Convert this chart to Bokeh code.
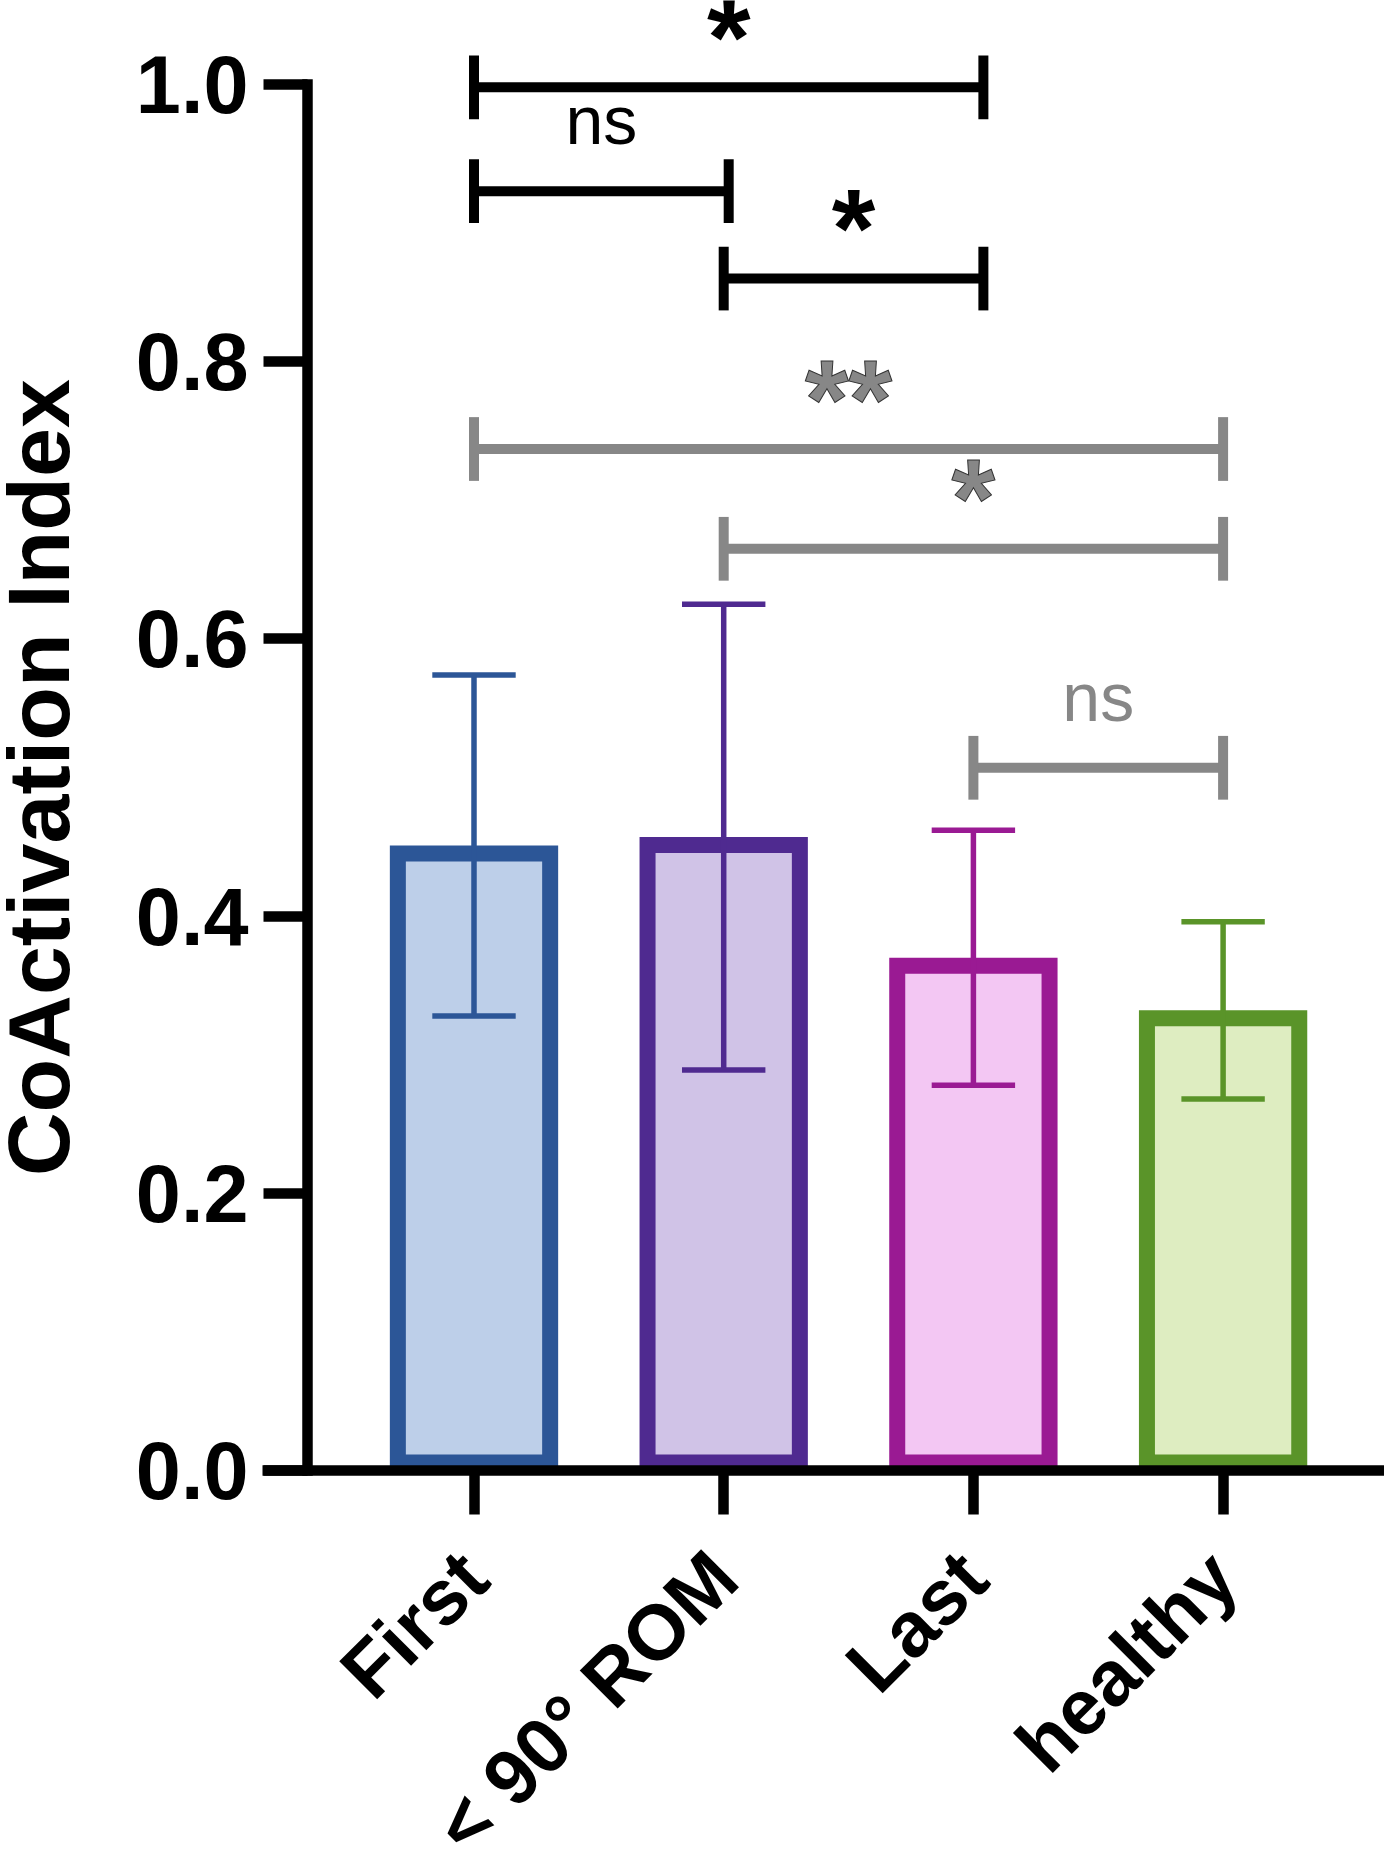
import math
from bokeh.plotting import figure
from bokeh.models import ColumnDataSource, FixedTicker, Range1d, NumeralTickFormatter
from bokeh.core.properties import value
from bokeh.embed import file_html
from bokeh.resources import INLINE

# ---- data ----
categories = ["First", "< 90° ROM", "Last", "healthy"]
means = [0.451, 0.457, 0.370, 0.332]
sds = [0.123, 0.168, 0.092, 0.064]
outline_colors = ["#2C5697", "#4F2A90", "#9A1A93", "#5A9429"]
fill_colors = ["#BDCFE9", "#D0C3E7", "#F3C7F3", "#DEEDC1"]

# significance brackets (category index from / to, height, label)
sig_left = [0, 0, 1, 0, 1, 2]
sig_right = [2.04, 1.02, 2.04, 3, 3, 3]
sig_y = [0.998, 0.923, 0.860, 0.737, 0.665, 0.507]
sig_text = ["*", "ns", "*", "**", "*", "ns"]
sig_color = ["#000000", "#000000", "#000000", "#878787", "#878787", "#878787"]

y_ticks = [0.0, 0.2, 0.4, 0.6, 0.8, 1.0]

# ---- styling constants ----
PX_PER_UNIT_Y = 1386.0
BAR_LW = 16
BAR_W = 0.61
CAP_HALF = 0.167
TICK_HALF = 0.023
FONT = "Liberation Sans"
Y_AXIS_AT = -0.667          # x position of the y axis line
X_AXIS_FROM = -0.847        # left end of the x axis line

xs = list(range(len(categories)))
inset = (BAR_LW / 2) / PX_PER_UNIT_Y

p = figure(width=1384, height=1846,
           x_range=Range1d(-1.8963, 3.6464), y_range=Range1d(-0.2713, 1.0606),
           output_backend="svg", toolbar_location=None,
           min_border_left=0, min_border_right=0,
           min_border_top=0, min_border_bottom=0)
p.outline_line_color = None
p.xgrid.visible = False
p.ygrid.visible = False
p.background_fill_color = "white"
p.border_fill_color = "white"

# bars
bar_src = ColumnDataSource(dict(x=xs, top=[m - inset for m in means],
                                fill=fill_colors, line=outline_colors))
p.vbar(x="x", top="top", bottom=inset, width=BAR_W, source=bar_src,
       fill_color="fill", line_color="line", line_width=BAR_LW,
       line_join="miter")

# error bars
lo = [m - s for m, s in zip(means, sds)]
hi = [m + s for m, s in zip(means, sds)]
p.segment(x0=xs, y0=lo, x1=xs, y1=hi, line_color=outline_colors, line_width=5.5)
p.segment(x0=[x - CAP_HALF for x in xs], y0=hi, x1=[x + CAP_HALF for x in xs], y1=hi,
          line_color=outline_colors, line_width=5.5)
p.segment(x0=[x - CAP_HALF for x in xs], y0=lo, x1=[x + CAP_HALF for x in xs], y1=lo,
          line_color=outline_colors, line_width=5.5)

# significance brackets
p.segment(x0=sig_left, y0=sig_y, x1=sig_right, y1=sig_y, line_color=sig_color, line_width=10)
p.segment(x0=sig_left, y0=[y - TICK_HALF for y in sig_y], x1=sig_left,
          y1=[y + TICK_HALF for y in sig_y], line_color=sig_color, line_width=10)
p.segment(x0=sig_right, y0=[y - TICK_HALF for y in sig_y], x1=sig_right,
          y1=[y + TICK_HALF for y in sig_y], line_color=sig_color, line_width=10)

mid = [(a + b) / 2 for a, b in zip(sig_left, sig_right)]
star_idx = [i for i, t in enumerate(sig_text) if "*" in t]
ns_idx = [i for i, t in enumerate(sig_text) if "*" not in t]
black_star = [i for i in star_idx if sig_color[i] == "#000000"]
gray_star = [i for i in star_idx if sig_color[i] != "#000000"]

p.text(x=[mid[i] for i in black_star], y=[sig_y[i] for i in black_star],
       text=[sig_text[i] for i in black_star], text_color="#000000",
       text_font=value(FONT), text_font_style="bold", text_font_size="112px",
       text_align="center", text_baseline="alphabetic", y_offset=-50)
p.text(x=[mid[i] for i in gray_star], y=[sig_y[i] for i in gray_star],
       text=[sig_text[i] for i in gray_star], text_color="#878787",
       text_outline_color="#333333",
       text_font=value(FONT), text_font_style="bold", text_font_size="112px",
       text_align="center", text_baseline="alphabetic", y_offset=-50)
p.text(x=[mid[i] for i in ns_idx], y=[sig_y[i] for i in ns_idx],
       text=[sig_text[i] for i in ns_idx], text_color=[sig_color[i] for i in ns_idx],
       text_font=value(FONT), text_font_size="68px",
       text_align="center", text_baseline="alphabetic", y_offset=-71)

# y axis
yax = p.yaxis[0]
yax.fixed_location = Y_AXIS_AT
yax.bounds = (0, 1)
yax.ticker = FixedTicker(ticks=y_ticks)
yax.formatter = NumeralTickFormatter(format="0.0")
yax.axis_line_width = 10.5
yax.axis_line_cap = "square"
yax.major_tick_line_width = 10.5
yax.major_tick_out = 44
yax.major_tick_in = 0
yax.minor_tick_line_color = None
yax.major_label_text_font = FONT
yax.major_label_text_font_style = "bold"
yax.major_label_text_font_size = "81px"
yax.major_label_text_color = "black"
yax.major_label_standoff = 15
yax.axis_label = "CoActivation Index"
yax.axis_label_text_font = FONT
yax.axis_label_text_font_style = "bold"
yax.axis_label_text_font_size = "88px"
yax.axis_label_text_color = "black"
yax.axis_label_standoff = 45

# x axis
xax = p.xaxis[0]
xax.fixed_location = 0
xax.bounds = (X_AXIS_FROM, 3.6464)
xax.ticker = FixedTicker(ticks=xs)
xax.major_label_overrides = {i: c for i, c in zip(xs, categories)}
xax.major_label_orientation = math.pi / 4
xax.axis_line_width = 10.5
xax.major_tick_line_width = 10.5
xax.major_tick_out = 44
xax.major_tick_in = 0
xax.minor_tick_line_color = None
xax.major_label_text_font = FONT
xax.major_label_text_font_style = "bold"
xax.major_label_text_font_size = "78px"
xax.major_label_text_color = "black"
xax.major_label_standoff = 50

open("out.html", "w").write(file_html(p, INLINE))
